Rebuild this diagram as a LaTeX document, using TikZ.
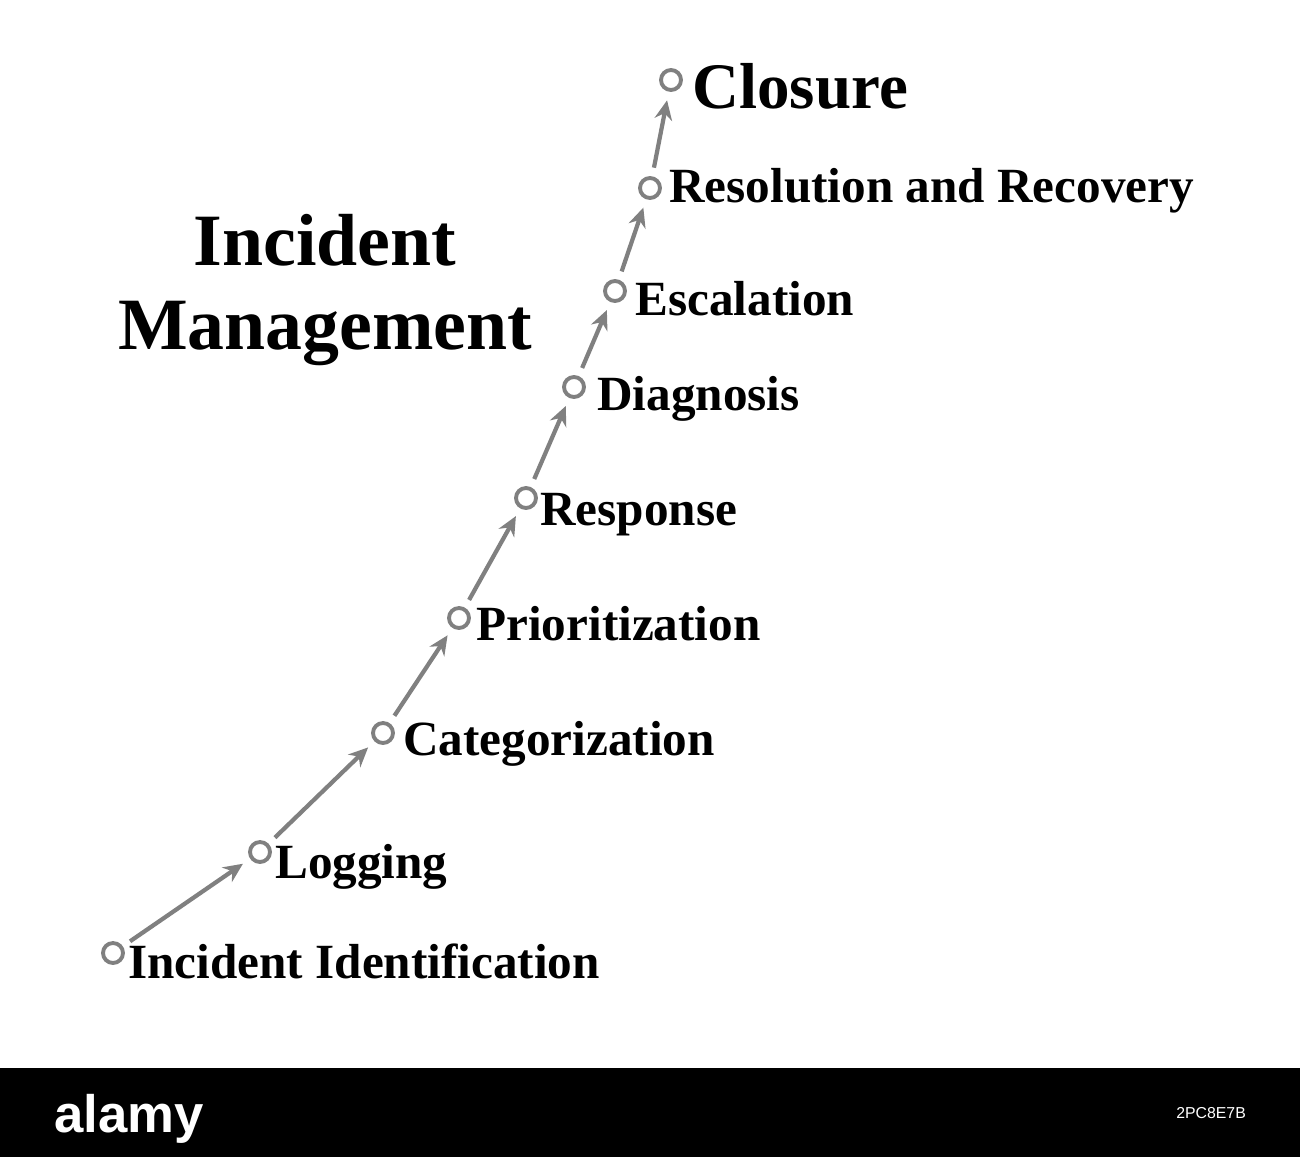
\documentclass[tikz,border=0pt]{standalone}
\usepackage{fontspec}
\setmainfont{Liberation Serif}
\newfontfamily\wmfont{Liberation Sans}
\usetikzlibrary{arrows.meta}
\definecolor{step_gray}{HTML}{808080}

\begin{document}
\begin{tikzpicture}[x=0.02cm, y=-0.02cm,
	dot/.style={circle, draw=step_gray, line width=2.2pt, inner sep=0pt, minimum size=0.4cm},
	lbl/.style={anchor=base west, inner sep=0pt, font=\bfseries\fontsize{28}{30}\selectfont},
	link/.style={draw=step_gray, line width=2.4pt, -{Stealth[length=11pt, width=10pt]}, shorten <=5pt, shorten >=5pt}]
	\useasboundingbox (0, 0) rectangle (1300, 1157);
	\fill[white] (0, 0) rectangle (1300, 1068);
	\fill[black] (0, 1068) rectangle (1300, 1157);
	\node[white, font=\wmfont\bfseries\fontsize{30}{32}\selectfont, anchor=base west] (logo) at (48, 1132) {alamy};
	\node[white, font=\wmfont\fontsize{9}{10}\selectfont, anchor=base east] (code) at (1252, 1118) {2PC8E7B};
	% steps
	\node[dot] (s1) at (113, 953) {};
	\node[dot] (s2) at (260, 852) {};
	\node[dot] (s3) at (383, 733) {};
	\node[dot] (s4) at (459, 618) {};
	\node[dot] (s5) at (526, 498) {};
	\node[dot] (s6) at (574, 387) {};
	\node[dot] (s7) at (615, 291) {};
	\node[dot] (s8) at (650, 188) {};
	\node[dot] (s9) at (671, 80) {};
	\node[lbl] (t1) at (128, 978) {Incident Identification};
	\node[lbl] (t2) at (275, 878) {Logging};
	\node[lbl] (t3) at (403, 755) {Categorization};
	\node[lbl] (t4) at (476, 640) {Prioritization};
	\node[lbl] (t5) at (540, 525) {Response};
	\node[lbl] (t6) at (597, 410) {Diagnosis};
	\node[lbl] (t7) at (635, 315) {Escalation};
	\node[lbl] (t8) at (669, 202) {Resolution and Recovery};
	\node[lbl, font=\bfseries\fontsize{37}{40}\selectfont] (t9) at (692, 108) {Closure};
	\foreach \a/\b in {1/2, 2/3, 3/4, 4/5, 5/6, 6/7, 7/8, 8/9}
		\draw[link] (s\a) -- (s\b);
	% title
	\node[font=\bfseries\fontsize{42}{48}\selectfont, align=center] (title) at (325, 290) {Incident\\Management};
\end{tikzpicture}
\end{document}
